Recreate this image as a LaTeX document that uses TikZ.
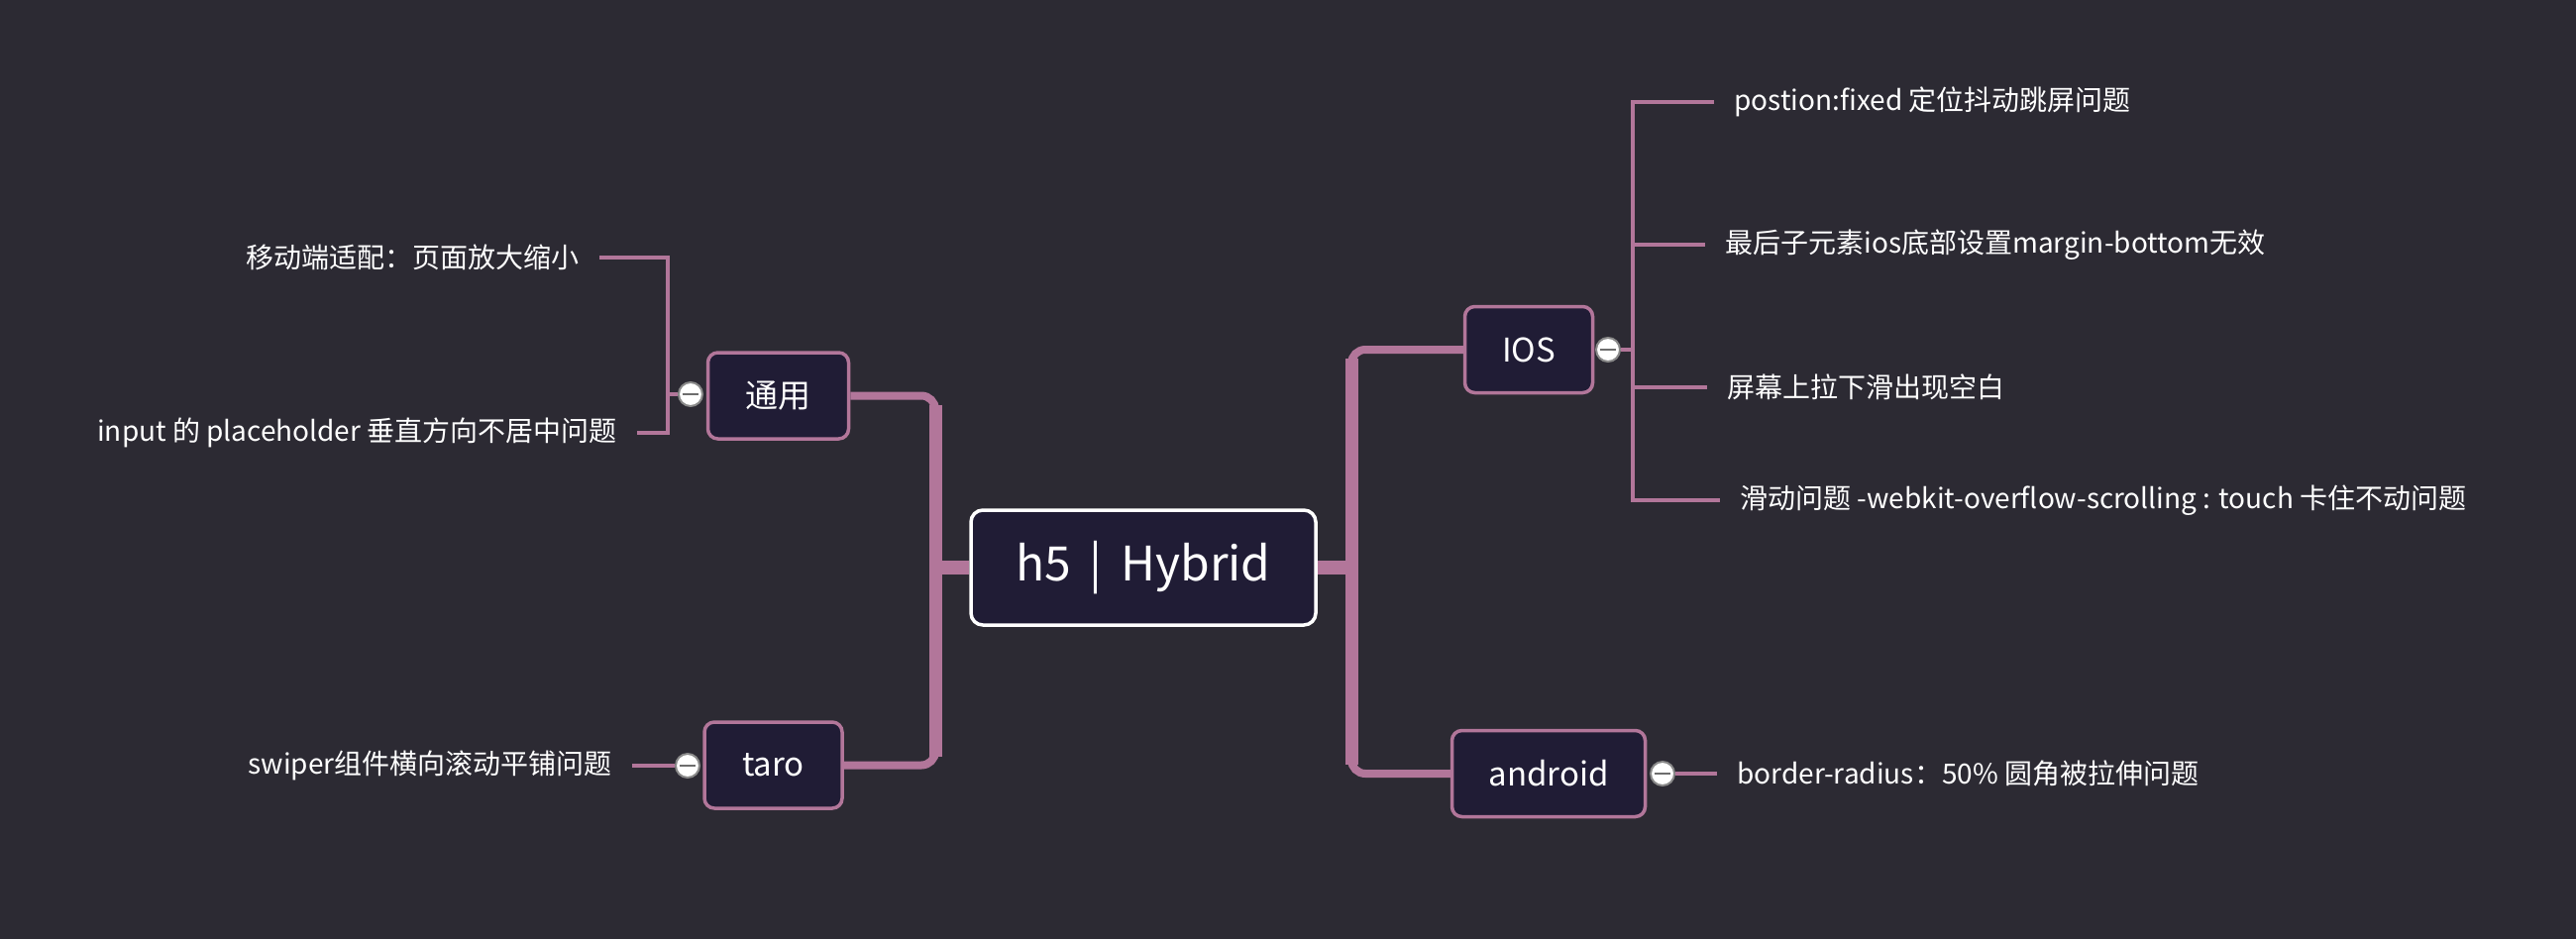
\documentclass[tikz,border=0pt]{standalone}
\usepackage{fontspec}
\setmainfont{Noto Sans CJK SC}
\usetikzlibrary{calc}
\definecolor{bgcol}{HTML}{2C2A33}
\definecolor{boxfill}{HTML}{201C35}
\definecolor{pinkline}{HTML}{B2769A}
\definecolor{togborder}{HTML}{8A8A8A}
\definecolor{togminus}{HTML}{6E6E6E}
\pgfdeclarelayer{bglayer}
\pgfdeclarelayer{lineslayer}
\pgfsetlayers{bglayer,lineslayer,main}
\begin{document}
\begin{tikzpicture}[x=0.5pt,y=-0.5pt,
 rootbox/.style={draw=white, line width=1.75pt, fill=boxfill, rounded corners=6pt,
   minimum width=174pt, minimum height=58pt, text=white,
   font=\fontsize{24pt}{29pt}\selectfont, inner sep=0pt},
 catbox/.style={draw=pinkline, line width=1.75pt, fill=boxfill, rounded corners=5pt,
   minimum height=43.5pt, text=white, font=\fontsize{16.5pt}{20pt}\selectfont, inner sep=0pt},
 leaf/.style={text=white, font=\fontsize{14pt}{17pt}\selectfont, inner xsep=10pt, inner ysep=0pt},
 toggle/.style={circle, draw=togborder, line width=1pt, fill=white, minimum size=12pt, inner sep=0pt,
   path picture={\draw[togminus, line width=1.2pt]
     ([xshift=-4.2pt]path picture bounding box.center) -- ([xshift=4.2pt]path picture bounding box.center);}},
 branch/.style={draw=pinkline, line width=4pt, rounded corners=7pt},
 trunk/.style={draw=pinkline, line width=6.5pt},
 stub/.style={draw=pinkline, line width=7pt},
 leafline/.style={draw=pinkline, line width=2pt}]

\begin{pgfonlayer}{bglayer}
\fill[bgcol] (0,0) rectangle (2600,948);
\end{pgfonlayer}
\useasboundingbox (0,0) rectangle (2600,948);

% main nodes
\node[rootbox] (root) at (1154,573) {h5 \,|\, Hybrid};
\node[catbox, minimum width=64.5pt] (ios) at (1543,353) {IOS};
\node[catbox, minimum width=97.5pt] (android) at (1563,781) {android};
\node[catbox, minimum width=71pt] (tongyong) at (785.5,399.5) {通用};
\node[catbox, minimum width=69.5pt] (taro) at (780.5,772.5) {taro};

% toggles
\node[toggle] (tios) at (1623,353) {};
\node[toggle] (tand) at (1678,781) {};
\node[toggle] (tty) at (697,398) {};
\node[toggle] (ttaro) at (694,773) {};

% leaves
\node[leaf, anchor=west] (l1) at (1730,103) {postion:fixed 定位抖动跳屏问题};
\node[leaf, anchor=west] (l2) at (1721,247) {最后子元素ios底部设置margin-bottom无效};
\node[leaf, anchor=west] (l3) at (1723,391) {屏幕上拉下滑出现空白};
\node[leaf, anchor=west] (l4) at (1736,505) {滑动问题 -webkit-overflow-scrolling : touch 卡住不动问题};
\node[leaf, anchor=west] (l5) at (1733,781) {border-radius：50\% 圆角被拉伸问题};
\node[leaf, anchor=east] (l6) at (605,260) {移动端适配：页面放大缩小};
\node[leaf, anchor=east] (l7) at (643,437) {input 的 placeholder 垂直方向不居中问题};
\node[leaf, anchor=east] (l8) at (638,773) {swiper组件横向滚动平铺问题};

\coordinate (rt) at (1364,573);
\coordinate (lt) at (944,573);
\coordinate (iv) at (1648,353);
\coordinate (lv) at (674,398);

\begin{pgfonlayer}{lineslayer}
% right trunk
\draw[stub] (root.east) -- ($(rt)+(2,0)$);
\draw[branch] (ios.west) -| (rt) |- (android.west);
\draw[trunk] ($(rt |- ios.west)+(0,9)$) -- ($(rt |- android.west)+(0,-9)$);
% left trunk
\draw[stub] (root.west) -- ($(lt)+(-2,0)$);
\draw[branch] (tongyong.east) -| (lt) |- (taro.east);
\draw[trunk] ($(lt |- tongyong.east)+(0,9)$) -- ($(lt |- taro.east)+(0,-9)$);
% IOS leaves
\draw[leafline] (tios.east) -- (iv);
\draw[leafline] (l1.west) -| (iv) |- (l4.west);
\draw[leafline] (iv |- l2.west) -- (l2.west);
\draw[leafline] (iv |- l3.west) -- (l3.west);
% android leaf
\draw[leafline] (tand.east) -- (l5.west);
% 通用 leaves
\draw[leafline] (tty.west) -- (lv);
\draw[leafline] (l6.east) -| (lv) |- (l7.east);
% taro leaf
\draw[leafline] (ttaro.west) -- (l8.east);
\end{pgfonlayer}
\end{tikzpicture}
\end{document}
